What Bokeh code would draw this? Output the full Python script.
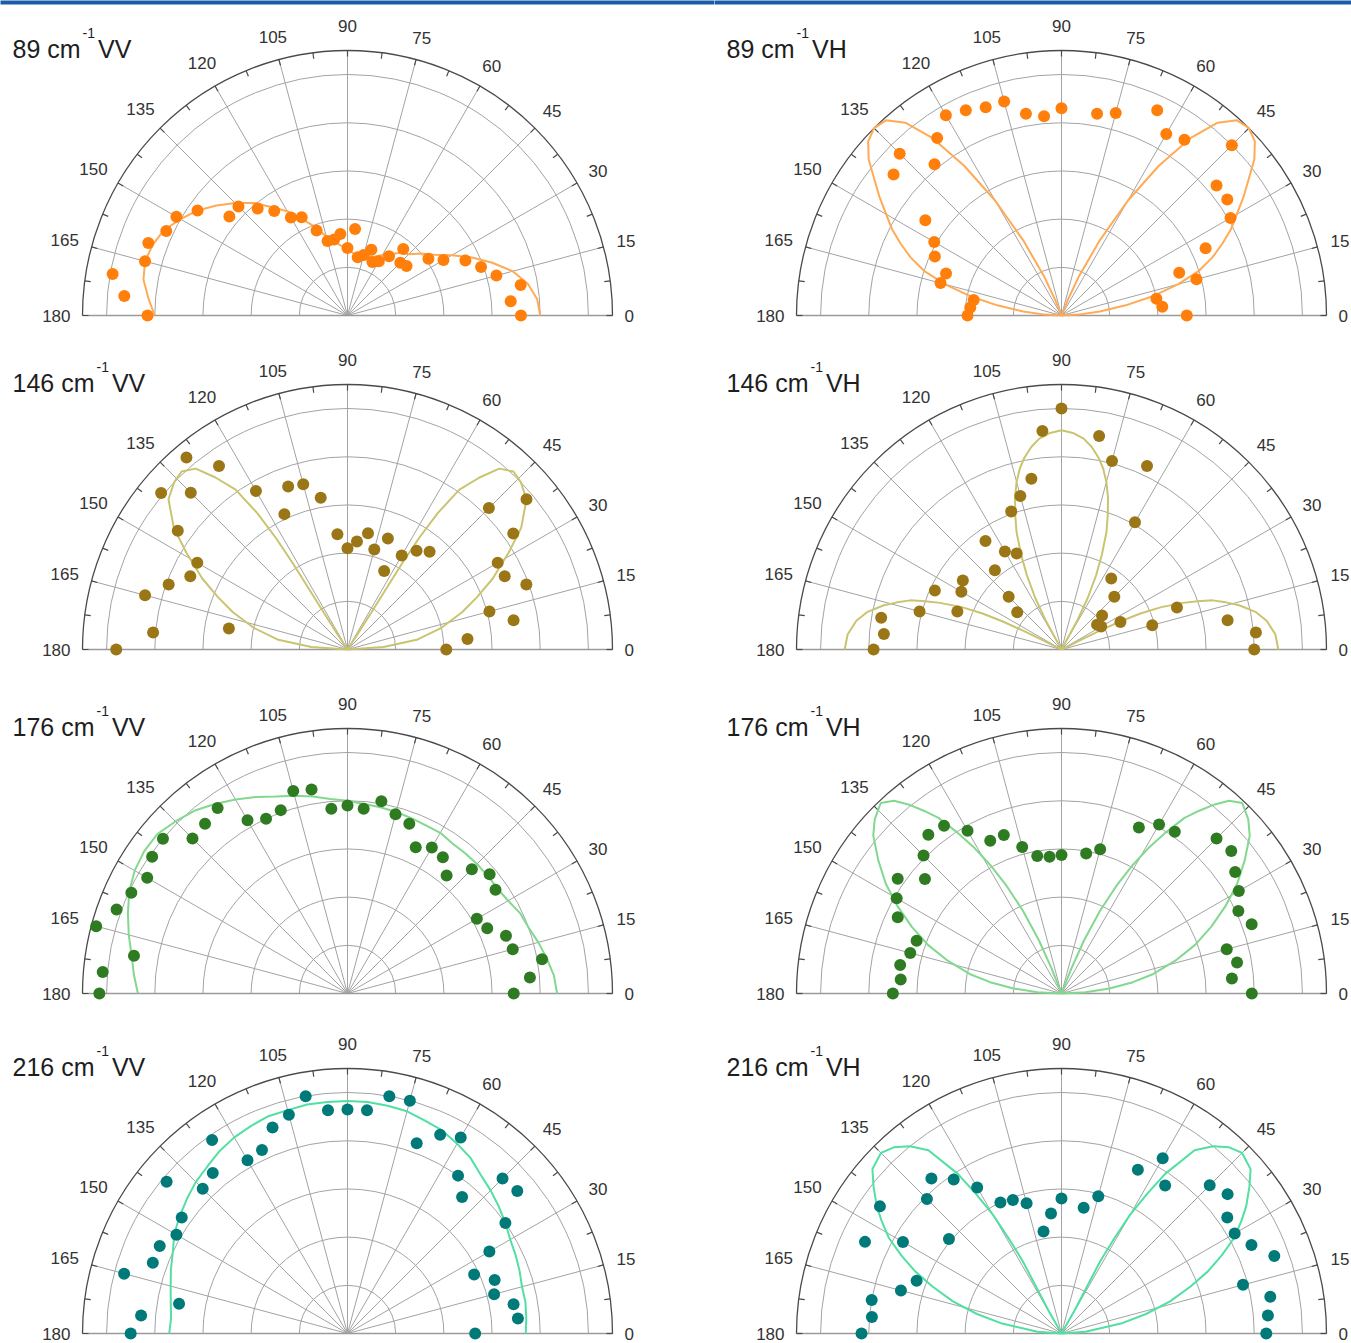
import numpy as np
from bokeh.plotting import figure
from bokeh.layouts import column, row
from bokeh.models import Range1d
from bokeh.core.properties import value
from bokeh.embed import file_html
from bokeh.resources import INLINE

# ------------------------------------------------------------------ data
# polarisation angle (deg) of the measured points
ANGLES = [0, 5, 10, 15, 20, 25, 30, 35, 40, 45, 50, 55, 60, 65, 70, 75, 80, 85, 90,
          95, 100, 105, 110, 115, 120, 125, 130, 135, 140, 145, 150, 155, 160, 165,
          170, 175, 180]
ANGLES_VH = [0, 5, 10, 15, 20, 25, 30, 35, 40, 45, 55, 60, 65, 75, 80, 90, 95, 100,
             105, 110, 115, 120, 125, 130, 135, 140, 145, 150, 155, 160, 165, 170, 175, 180]

THETA_TICKS = [0, 15, 30, 45, 60, 75, 90, 105, 120, 135, 150, 165, 180]
THETA_LABELS = ["0", "15", "30", "45", "60", "75", "90", "105", "120", "135", "150", "165", "180"]
RINGS = [0.2, 0.4, 0.6, 0.8, 1.0]
R_MAX = 1.1

# 89 cm-1
int_89_vv = [0.72, 0.68, 0.73, 0.64, 0.59, 0.54, 0.46, 0.41, 0.32, 0.31, 0.36, 0.30, 0.26,
             0.245, 0.29, 0.26, 0.245, 0.36, 0.28, 0.34, 0.32, 0.32, 0.375, 0.45, 0.47,
             0.53, 0.58, 0.64, 0.64, 0.76, 0.82, 0.83, 0.88, 0.87, 0.99, 0.93, 0.83]
fit_89_vv = [0.80, 0.79, 0.76, 0.71, 0.64, 0.57, 0.50, 0.44, 0.40, 0.36, 0.34, 0.31, 0.29,
             0.27, 0.26, 0.255, 0.255, 0.26, 0.28, 0.29, 0.31, 0.34, 0.39, 0.44, 0.50,
             0.55, 0.61, 0.66, 0.71, 0.76, 0.80, 0.84, 0.86, 0.87, 0.86, 0.83, 0.80]
int_89_vh = [0.52, 0.42, 0.40, 0.58, 0.52, 0.66, 0.81, 0.84, 0.84, 1.00, 0.89, 0.87, 0.94,
             0.87, 0.85, 0.86, 0.83, 0.85, 0.92, 0.92, 0.94, 0.96, 0.90, 0.82, 0.95, 0.91,
             0.69, 0.61, 0.58, 0.51, 0.52, 0.37, 0.38, 0.39]
fit_ang_89_vh = [0, 3, 6, 9, 12, 15, 18, 21, 24, 27, 30, 33, 36, 39, 42, 45, 48, 51, 54, 57,
                 60, 63, 66, 68, 69.5,
                 110.5, 112, 114, 117, 120, 123, 126, 129, 132, 135, 138, 141, 144, 147,
                 150, 153, 156, 159, 162, 165, 168, 171, 174, 177, 180]
fit_89_vh = [0, 0.07, 0.16, 0.27, 0.39, 0.50, 0.60, 0.67, 0.73, 0.79, 0.84, 0.90, 0.96,
             1.03, 1.08, 1.10, 1.09, 1.03, 0.91, 0.74, 0.55, 0.35, 0.18, 0.07, 0,
             0, 0.07, 0.18, 0.35, 0.55, 0.74, 0.91, 1.03, 1.09, 1.10, 1.08, 1.03, 0.96,
             0.90, 0.84, 0.79, 0.73, 0.67, 0.60, 0.50, 0.39, 0.27, 0.16, 0.07, 0]

# 146 cm-1
int_146_vv = [0.41, 0.50, 0.70, 0.61, 0.79, 0.72, 0.72, 0.84, 0.97, 0.83, 0.53, 0.50, 0.45,
              0.36, 0.49, 0.43, 0.49, 0.45, 0.42, 0.48, 0.64, 0.71, 0.72, 0.62, 0.76, 0.93,
              1.04, 0.92, 1.01, 0.86, 0.72, 0.72, 0.79, 0.87, 0.50, 0.81, 0.96]
fit_ang_146_vv = [0, 4, 8, 13, 18, 22, 26, 31, 35, 40, 44, 47, 50, 52.5, 55, 56.5, 57.3,
                  57.6, 57.5, 57.2, 57, 57,
                  123, 123, 122.8, 122.5, 122.4, 122.7, 123.5, 125, 127.5, 130, 133, 136,
                  140, 145, 149, 154, 158, 162, 167, 172, 176, 180]
fit_146_vv = [0, 0.15, 0.29, 0.40, 0.50, 0.58, 0.67, 0.78, 0.88, 0.97, 1.00, 1.01, 0.98,
              0.90, 0.81, 0.68, 0.55, 0.42, 0.30, 0.18, 0.08, 0,
              0, 0.08, 0.18, 0.30, 0.42, 0.55, 0.68, 0.81, 0.90, 0.98, 1.01, 1.00, 0.97,
              0.88, 0.78, 0.67, 0.58, 0.50, 0.40, 0.29, 0.15, 0]
int_146_vh = [0.80, 0.81, 0.70, 0.39, 0.51, 0.27, 0.19, 0.18, 0.22, 0.31, 0.36, 0.61, 0.84,
              0.81, 0.90, 1.00, 0.91, 0.72, 0.66, 0.61, 0.44, 0.47, 0.55, 0.43, 0.31, 0.24,
              0.50, 0.48, 0.58, 0.46, 0.61, 0.76, 0.74, 0.78]
fit_ang_146_vh = [0, 4, 8, 11, 14, 16, 18, 19.5, 21, 23, 24.5, 25.5, 26.2, 26.6, 27,
                  60, 61.5, 63, 65, 67, 69, 71, 73, 75, 77, 79, 81.5, 84, 87, 90, 93, 96,
                  98.5, 101, 103, 105, 107, 109, 111, 113, 115, 117, 118.5, 120,
                  153, 153.4, 153.8, 154.5, 155.5, 157, 159, 160.5, 162, 164, 166, 169,
                  172, 176, 180]
fit_146_vh = [0.90, 0.89, 0.86, 0.82, 0.76, 0.71, 0.66, 0.60, 0.54, 0.45, 0.36, 0.27, 0.18,
              0.09, 0,
              0, 0.14, 0.24, 0.34, 0.43, 0.52, 0.59, 0.66, 0.72, 0.77, 0.81, 0.85, 0.88,
              0.90, 0.91, 0.90, 0.88, 0.85, 0.81, 0.77, 0.72, 0.66, 0.59, 0.52, 0.43,
              0.34, 0.24, 0.14, 0,
              0, 0.09, 0.18, 0.27, 0.36, 0.45, 0.54, 0.60, 0.66, 0.71, 0.76, 0.82, 0.86,
              0.89, 0.90]

# 176 cm-1
int_176_vv = [0.69, 0.76, 0.82, 0.71, 0.70, 0.64, 0.62, 0.75, 0.77, 0.73, 0.64, 0.69, 0.70,
              0.67, 0.75, 0.77, 0.81, 0.77, 0.78, 0.77, 0.86, 0.87, 0.81, 0.80, 0.83, 0.94,
              0.92, 0.91, 1.00, 0.99, 0.96, 0.99, 1.02, 1.08, 0.90, 1.02, 1.03]
fit_176_vv = [0.87, 0.86, 0.84, 0.82, 0.80, 0.79, 0.77, 0.76, 0.76, 0.76, 0.76, 0.76, 0.77,
              0.77, 0.775, 0.78, 0.785, 0.79, 0.80, 0.81, 0.83, 0.85, 0.87, 0.90, 0.93,
              0.96, 0.99, 1.01, 1.03, 1.03, 1.02, 1.00, 0.97, 0.94, 0.91, 0.89, 0.87]
int_176_vh = [0.79, 0.71, 0.74, 0.71, 0.84, 0.81, 0.85, 0.88, 0.92, 0.91, 0.82, 0.81, 0.76,
              0.62, 0.59, 0.575, 0.57, 0.58, 0.63, 0.70, 0.70, 0.78, 0.85, 0.86, 0.81, 0.74,
              0.83, 0.79, 0.75, 0.64, 0.65, 0.68, 0.67, 0.70]
fit_ang_176_vh = [0, 3, 6, 9, 12, 16, 20, 24, 28, 32, 36, 40, 43, 46.5, 49, 51, 53, 55, 57,
                  59, 61, 63, 65, 67, 68.5, 69.5,
                  110.5, 111.5, 113, 115, 117, 119, 121, 123, 125, 127, 129, 131, 133.5,
                  137, 140, 144, 148, 152, 156, 160, 164, 168, 171, 174, 177, 180]
fit_176_vh = [0, 0.10, 0.20, 0.30, 0.39, 0.49, 0.59, 0.68, 0.77, 0.86, 0.94, 1.02, 1.06,
              1.09, 1.06, 1.01, 0.95, 0.89, 0.80, 0.71, 0.61, 0.50, 0.38, 0.24, 0.11, 0,
              0, 0.11, 0.24, 0.38, 0.50, 0.61, 0.71, 0.80, 0.89, 0.95, 1.01, 1.06, 1.09,
              1.06, 1.02, 0.94, 0.86, 0.77, 0.68, 0.59, 0.49, 0.39, 0.30, 0.20, 0.10, 0]

# 216 cm-1
int_216_vv = [0.53, 0.71, 0.70, 0.63, 0.65, 0.58, 0.68, 0.80, 0.92, 0.91, 0.74, 0.80, 0.94,
              0.91, 0.84, 1.00, 1.00, 0.93, 0.93, 0.93, 1.00, 0.94, 0.91, 0.84, 0.83, 0.98,
              0.87, 0.85, 0.98, 0.84, 0.82, 0.86, 0.86, 0.96, 0.71, 0.86, 0.90]
fit_216_vv = [0.74, 0.745, 0.75, 0.75, 0.76, 0.77, 0.78, 0.80, 0.82, 0.84, 0.86, 0.89, 0.91,
              0.93, 0.94, 0.955, 0.96, 0.965, 0.965, 0.965, 0.965, 0.96, 0.96, 0.95, 0.94,
              0.925, 0.905, 0.89, 0.87, 0.85, 0.83, 0.80, 0.78, 0.76, 0.745, 0.735, 0.74]
int_216_vh = [0.85, 0.86, 0.88, 0.78, 0.94, 0.87, 0.83, 0.84, 0.90, 0.87, 0.75, 0.84, 0.75,
              0.59, 0.53, 0.56, 0.50, 0.43, 0.56, 0.59, 0.60, 0.70, 0.78, 0.84, 0.79, 0.61,
              0.92, 0.76, 0.90, 0.64, 0.69, 0.80, 0.79, 0.83]
fit_ang_216_vh = [0, 4, 9.5, 13, 16.5, 20, 23, 26, 29, 32, 34.5, 38, 41, 45, 48, 51, 54, 57,
                  58.5, 60, 61, 61.8, 61.5, 60.5, 60,
                  120, 119.5, 118.5, 118.2, 119, 120, 121.5, 123, 126, 129, 132, 135, 139,
                  142, 145.5, 148, 151, 154, 157, 160, 163.5, 167, 170.5, 176, 180]
fit_216_vh = [0, 0.10, 0.25, 0.36, 0.47, 0.57, 0.66, 0.74, 0.82, 0.88, 0.93, 0.99, 1.04,
              1.06, 1.04, 1.00, 0.94, 0.79, 0.68, 0.57, 0.45, 0.34, 0.22, 0.11, 0,
              0, 0.11, 0.22, 0.34, 0.45, 0.57, 0.68, 0.79, 0.94, 1.00, 1.04, 1.06, 1.04,
              0.99, 0.93, 0.88, 0.82, 0.74, 0.66, 0.57, 0.47, 0.36, 0.25, 0.10, 0]

# ------------------------------------------------------------------ style / layout
PX = 265.0 / R_MAX            # screen pixels per intensity unit
CX = 347                      # local x of the polar origin in every panel
COL_W = [714, 637]
ROWS = [(333, 315), (344, 316), (342, 316), (324, 314)]   # (height, origin y from top)
TITLE_UP = 267                # px from origin up to the title's baseline
GRID_C = "#a3a3a3"
FONT = value("Liberation Sans")
CHAR_W = {"0": .556, "1": .556, "2": .556, "3": .556, "4": .556, "5": .556, "6": .556,
          "7": .556, "8": .556, "9": .556, " ": .278, "c": .5, "m": .833, "-": .333,
          "V": .667, "H": .722}

SERIES = {
    "89": ("#ff7f0a", "#ffaa55"),
    "146": ("#9a7616", "#c9c46f"),
    "176": ("#2e7b22", "#82d88e"),
    "216": ("#007a78", "#52dfa2"),
}

PANELS = [
    ("89", "VV", ANGLES, int_89_vv, ANGLES, fit_89_vv),
    ("89", "VH", ANGLES_VH, int_89_vh, fit_ang_89_vh, fit_89_vh),
    ("146", "VV", ANGLES, int_146_vv, fit_ang_146_vv, fit_146_vv),
    ("146", "VH", ANGLES_VH, int_146_vh, fit_ang_146_vh, fit_146_vh),
    ("176", "VV", ANGLES, int_176_vv, ANGLES, fit_176_vv),
    ("176", "VH", ANGLES_VH, int_176_vh, fit_ang_176_vh, fit_176_vh),
    ("216", "VV", ANGLES, int_216_vv, ANGLES, fit_216_vv),
    ("216", "VH", ANGLES_VH, int_216_vh, fit_ang_216_vh, fit_216_vh),
]


def polar_xy(ang_deg, r):
    a = np.deg2rad(np.asarray(ang_deg, dtype=float))
    r = np.asarray(r, dtype=float)
    return r * np.cos(a), r * np.sin(a)


def text_w(s, size):
    return sum(CHAR_W.get(c, 0.556) for c in s) * size


def make_panel(spec, width, height, origin_px, band):
    wn, pol, ang, inten, fang, fval = spec
    dot_c, line_c = SERIES[wn]
    xr = Range1d(-CX / PX, (width - CX) / PX)
    yr = Range1d(-(height - origin_px) / PX, origin_px / PX)
    p = figure(width=width, height=height, x_range=xr, y_range=yr,
               output_backend="svg", toolbar_location=None, tools="",
               x_axis_location=None, y_axis_location=None,
               min_border=0, outline_line_color=None,
               background_fill_color="white", border_fill_color="white")
    p.grid.visible = False

    if band:
        p.quad(left=[xr.start - 0.05], right=[xr.end + 0.05], top=[yr.end + 0.05],
               bottom=[yr.end - 4 / PX], fill_color="#1b5ca8", line_color=None)

    # rings
    p.arc(x=[0] * len(RINGS), y=[0] * len(RINGS), radius=RINGS,
          start_angle=0, end_angle=np.pi, line_color=GRID_C, line_width=1)
    # spokes
    sx, sy = polar_xy(THETA_TICKS, [R_MAX] * len(THETA_TICKS))
    p.segment(x0=[0] * len(sx), y0=[0] * len(sx), x1=sx, y1=sy,
              line_color=GRID_C, line_width=1)
    # baseline
    p.segment(x0=[-R_MAX], y0=[0], x1=[R_MAX], y1=[0], line_color="#9a9a9a", line_width=1.5)
    # outer arc
    p.arc(x=[0], y=[0], radius=[R_MAX], start_angle=0, end_angle=np.pi,
          line_color="#4a4a4a", line_width=1.3)
    # ticks on the outer arc every 7.5 deg
    tick_ang = np.arange(0, 180.01, 7.5)
    t_in = R_MAX - 6.0 / PX
    tx0, ty0 = polar_xy(tick_ang, [t_in] * len(tick_ang))
    tx1, ty1 = polar_xy(tick_ang, [R_MAX] * len(tick_ang))
    p.segment(x0=tx0, y0=ty0, x1=tx1, y1=ty1, line_color="#4a4a4a", line_width=1.2)

    # angle labels
    lx, ly = [], []
    for th, lab in zip(THETA_TICKS, THETA_LABELS):
        a = np.deg2rad(th)
        w = text_w(lab, 17)
        d = R_MAX * PX + 12 + 0.5 * w * abs(np.cos(a)) + 8 * abs(np.sin(a))
        if th == 90:
            d += 5
        lx.append(d * np.cos(a) / PX)
        ly.append(d * np.sin(a) / PX)
    p.text(x=lx, y=ly, text=THETA_LABELS, text_align="center", text_baseline="middle",
           text_font=FONT, text_font_size="17px", text_color="#333333")

    # fit curve and data
    fx, fy = polar_xy(fang, fval)
    p.line(fx, fy, line_color=line_c, line_width=2)
    dx, dy = polar_xy(ang, inten)
    p.scatter(dx, dy, size=12, fill_color=dot_c, line_color=None)

    # title  "<wn> cm^-1 <pol>"
    main = wn + " cm"
    x0 = (12 - CX) / PX
    yb = TITLE_UP / PX
    x_sup = x0 + (text_w(main, 25) + 2) / PX
    x_pol = x_sup + (text_w("-1", 14) + 3) / PX
    p.text(x=[x0], y=[yb], text=[main], text_font=FONT, text_font_size="25px",
           text_color="#1e1e1e", text_baseline="alphabetic", text_align="left")
    p.text(x=[x_sup], y=[yb + 16 / PX], text=["-1"], text_font=FONT, text_font_size="14px",
           text_color="#1e1e1e", text_baseline="alphabetic", text_align="left")
    p.text(x=[x_pol], y=[yb], text=[pol], text_font=FONT, text_font_size="25px",
           text_color="#1e1e1e", text_baseline="alphabetic", text_align="left")
    return p


rows = []
for i, (h, o) in enumerate(ROWS):
    figs = [make_panel(PANELS[2 * i + j], COL_W[j], h, o, i == 0) for j in range(2)]
    rows.append(row(*figs))
layout = column(*rows)

open("out.html", "w").write(file_html(layout, INLINE, "Polar Raman plots"))
